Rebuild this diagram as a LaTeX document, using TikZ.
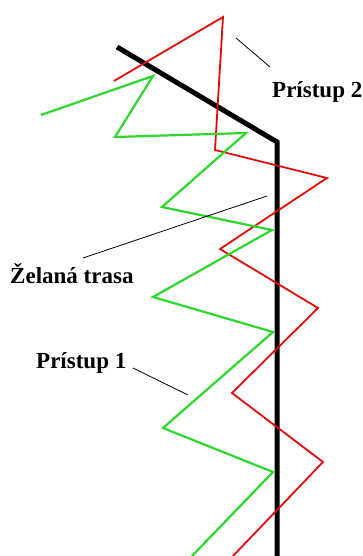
\documentclass[tikz,border=0pt]{standalone}
\usepackage{fontspec}
\setmainfont{Liberation Serif}
\begin{document}
\begin{tikzpicture}[x=1pt,y=-1pt,
  route/.style={line width=5pt,black,line join=miter},
  redpath/.style={line width=1.8pt,color={rgb,255:red,225;green,10;blue,10},line join=miter},
  greenpath/.style={line width=2.2pt,color={rgb,255:red,45;green,215;blue,45},line join=miter},
  leader/.style={line width=0.8pt,black},
  lbl/.style={font=\bfseries\fontsize{23}{26}\selectfont,inner sep=0pt,anchor=base west}]
\useasboundingbox[fill=white] (0,0) rectangle (362,556);
% desired route
\draw[route] (117,47) -- (277,142) -- (277,556);
% approach 2 (red)
\draw[redpath] (114,81) -- (223,17) -- (215,150) -- (327,178) -- (220,249)
  -- (318,308) -- (232,393) -- (323,462) -- (233,556);
% approach 1 (green)
\draw[greenpath] (41,115) -- (153,76) -- (115,137) -- (246,133) -- (162,207)
  -- (272,230) -- (153,297) -- (273,332) -- (163,428) -- (273,472) -- (192,556);
% labels
\node[lbl] (p2) at (272,98) {Prístup 2};
\node[lbl] (zt) at (10,283) {Želaná trasa};
\node[lbl] (p1) at (36,368) {Prístup 1};
% leader lines
\coordinate (p2a) at (236,38);
\coordinate (p2b) at (270,67);
\coordinate (zta) at (83,258);
\coordinate (ztb) at (267,196);
\coordinate (p1a) at (133,368);
\coordinate (p1b) at (188,395);
\draw[leader] (p2b) -- (p2a);
\draw[leader] (zta) -- (ztb);
\draw[leader] (p1a) -- (p1b);
\end{tikzpicture}
\end{document}
